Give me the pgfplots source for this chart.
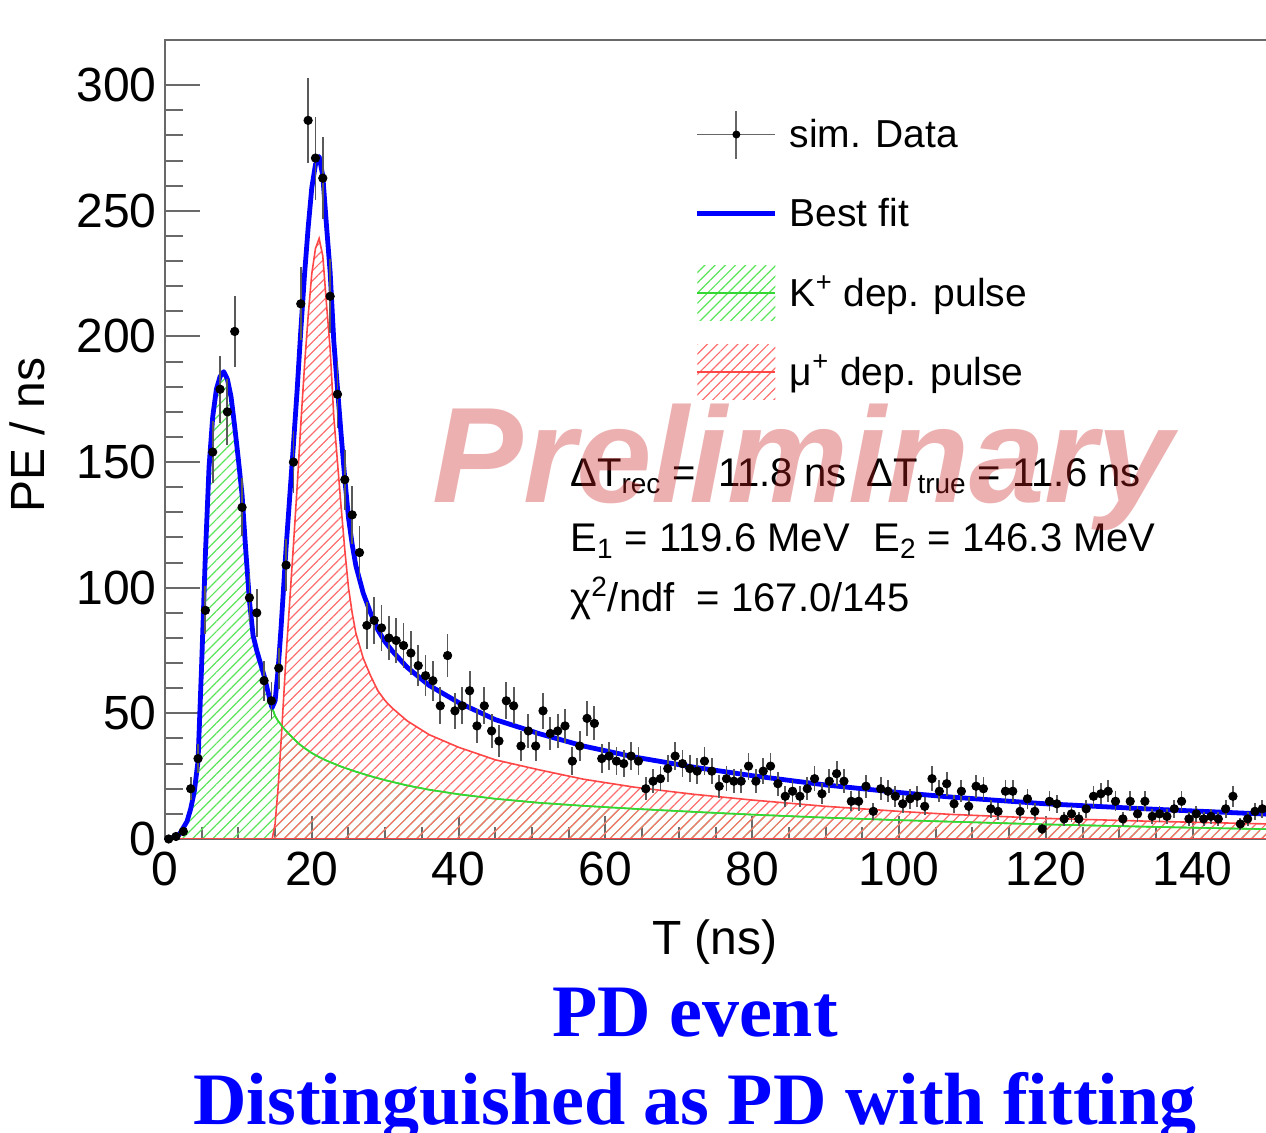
\documentclass[border=0pt]{standalone}
\usepackage{pgfplots}
\pgfplotsset{compat=1.18}
\usepackage{pgfplotstable}
\usepackage{fontspec}
\setmainfont{Liberation Sans}
\newfontfamily\tnr{Liberation Serif}
\usetikzlibrary{patterns.meta}
\definecolor{kgreen}{RGB}{90,228,90}
\definecolor{kgreenline}{RGB}{50,215,50}
\definecolor{mured}{RGB}{255,110,110}
\definecolor{muredline}{RGB}{255,70,70}
\definecolor{fitblue}{RGB}{0,0,255}
\definecolor{framegray}{RGB}{105,105,105}
\definecolor{prelim}{RGB}{200,30,30}
\definecolor{titleblue}{RGB}{0,0,255}
\tikzset{hatch/.style={pattern={Lines[angle=45,distance=3.6pt,line width=0.6pt]}}}

\pgfplotstableread{
t v e
0.5 0 0
1.5 1 1
2.5 3 1.7
3.5 20 4.5
4.5 32 5.7
5.5 91 9.5
6.5 154 12.4
7.5 179 13.4
8.5 170 13
9.5 202 14.2
10.5 132 11.5
11.5 96 9.8
12.5 90 9.5
13.5 63 7.9
14.5 55 7.4
15.5 68 8.2
16.5 109 10.4
17.5 150 12.2
18.5 213 14.6
19.5 286 16.9
20.5 271 16.5
21.5 263 16.2
22.5 216 14.7
23.5 177 13.3
24.5 143 12
25.5 129 11.4
26.5 114 10.7
27.5 85 9.2
28.5 87 9.3
29.5 84 9.2
30.5 80 8.9
31.5 79 8.9
32.5 77 8.8
33.5 74 8.6
34.5 69 8.3
35.5 65 8.1
36.5 63 7.9
37.5 53 7.3
38.5 73 8.5
39.5 51 7.1
40.5 53 7.3
41.5 59 7.7
42.5 45 6.7
43.5 53 7.3
44.5 43 6.6
45.5 39 6.2
46.5 55 7.4
47.5 53 7.3
48.5 37 6.1
49.5 43 6.6
50.5 37 6.1
51.5 51 7.1
52.5 42 6.5
53.5 43 6.6
54.5 45 6.7
55.5 31 5.6
56.5 37 6.1
57.5 48 6.9
58.5 46 6.8
59.5 32 5.7
60.5 33 5.7
61.5 31 5.6
62.5 30 5.5
63.5 33 5.7
64.5 31 5.6
65.5 20 4.5
66.5 23 4.8
67.5 24 4.9
68.5 28 5.3
69.5 33 5.7
70.5 30 5.5
71.5 28 5.3
72.5 27 5.2
73.5 31 5.6
74.5 27 5.2
75.5 21 4.6
76.5 24 4.9
77.5 23 4.8
78.5 23 4.8
79.5 29 5.4
80.5 23 4.8
81.5 27 5.2
82.5 29 5.4
83.5 22 4.7
84.5 17 4.1
85.5 19 4.4
86.5 17 4.1
87.5 20 4.5
88.5 24 4.9
89.5 18 4.2
90.5 23 4.8
91.5 26 5.1
92.5 23 4.8
93.5 15 3.9
94.5 15 3.9
95.5 21 4.6
96.5 11 3.3
97.5 20 4.5
98.5 19 4.4
99.5 17 4.1
100.5 14 3.7
101.5 16 4
102.5 17 4.1
103.5 13 3.6
104.5 24 4.9
105.5 19 4.4
106.5 22 4.7
107.5 14 3.7
108.5 19 4.4
109.5 13 3.6
110.5 21 4.6
111.5 20 4.5
112.5 12 3.5
113.5 11 3.3
114.5 19 4.4
115.5 19 4.4
116.5 11 3.3
117.5 16 4
118.5 11 3.3
119.5 4 2
120.5 15 3.9
121.5 14 3.7
122.5 8 2.8
123.5 10 3.2
124.5 8 2.8
125.5 12 3.5
126.5 17 4.1
127.5 18 4.2
128.5 19 4.4
129.5 15 3.9
130.5 8 2.8
131.5 15 3.9
132.5 10 3.2
133.5 15 3.9
134.5 9 3
135.5 10 3.2
136.5 9 3
137.5 12 3.5
138.5 15 3.9
139.5 8 2.8
140.5 10 3.2
141.5 8 2.8
142.5 9 3
143.5 8 2.8
144.5 12 3.5
145.5 17 4.1
146.5 6 2.4
147.5 8 2.8
148.5 11 3.3
149.5 12 3.5
}\datatab

\pgfplotstableread{
t v
0 0
1 0.5
2 2
3 7
3.5 12
4 19
4.5 31
5 70
5.5 113
6 148
6.5 168
7 179
7.5 184
8 186
8.5 183
9 176
9.5 164
10 151
10.5 137
11 115
11.5 95
12 81
12.5 75
13 70
13.5 65
14 59
14.5 53
15 49
15.4 47
15.8 45.5
16.2 44
16.5 43
17 41.5
17.5 40
18 38.5
18.5 37.3
19 36.2
19.5 35.2
20 34.2
20.5 33.4
21 32.6
21.5 31.9
22 31.2
22.5 30.6
23 30
23.5 29.4
24 28.8
24.5 28.3
25 27.8
26 26.8
27 25.9
28 25
29 24.2
30 23.4
31 22.7
33 21.3
36 19.6
40 17.8
45 16
51 14.4
57 13.2
64 12
72 10.8
80 9.7
90 8.5
100 7.5
107 6.9
120 5.8
135 4.8
150 3.9
151 3.85
}\ktab

\pgfplotstableread{
t v
0 0
14.6 0
15 6
15.4 20
15.8 38
16.2 58
16.5 73
17 95
17.5 117
18 140
18.5 165
19 188
19.5 208
20 225
20.5 235
21 239
21.5 232
22 213
22.5 195
23 168
23.5 150
24 132
24.5 115
25 100
25.5 90
26 82
27 72
28 65
29 59
30 55
31 52
33 47
36 41.5
40 36.5
45 31.5
51 27.5
57 23.8
64 20.6
72 17.8
80 15.5
90 13
100 11
107 9.8
120 8.2
135 7
150 6
151 5.95
}\mutab

\pgfplotstableread{
t v
0 0
1 0.5
2 2
3 7
3.5 12
4 19
4.5 31
5 70
5.5 113
6 148
6.5 168
7 179
7.5 184
8 186
8.5 183
9 176
9.5 164
10 151
10.5 137
11 115
11.5 95
12 81
12.5 75
13 70
13.5 65
14 59
14.5 53
14.6 52.3
15 55
15.4 67
15.8 83.5
16.2 102
16.5 116
17 136.5
17.5 157
18 178.5
18.5 202.3
19 224.2
19.5 243.2
20 259.2
20.5 268.4
21 271.6
21.5 263.9
22 244.2
22.5 225.6
23 198
23.5 179.4
24 160.8
24.5 143.3
25 127.8
25.5 117.3
26 108.8
27 97.9
28 90
29 83.2
30 78.4
31 74.7
33 68.3
36 61.1
40 54.3
45 47.5
51 41.9
57 37
64 32.6
72 28.6
80 25.2
90 21.5
100 18.5
107 16.7
120 14
135 11.8
150 9.9
151 9.8
}\fittab

\begin{document}
\begin{tikzpicture}
\useasboundingbox (-82.5pt,-147pt) rectangle (550.5pt,419.5pt);
\begin{axis}[
  at={(0pt,0pt)}, anchor=south west,
  scale only axis, width=553pt, height=399.5pt,
  xmin=0, xmax=150.68, ymin=0, ymax=318,
  xtick={0,20,...,140}, ytick={0,50,...,300},
  minor x tick num=3, minor y tick num=4,
  xtick pos=left, ytick pos=left,
  tick align=inside,
  major tick length=11.5pt, minor tick length=6pt,
  ytick style={/pgfplots/major tick length=17.5pt, /pgfplots/minor tick length=9pt},
  axis line style={framegray, line width=1pt},
  tick style={framegray, line width=1pt},
  tick label style={font=\fontsize{24}{28}\selectfont, inner sep=0pt},
  /pgf/number format/assume math mode=true,
  xticklabel shift=6.5pt, yticklabel shift=4pt,
  clip=true,
  legend style={at={(axis description cs:0.4792,0.9161)}, anchor=north west,
    draw=none, fill=none, inner sep=0pt, outer sep=0pt,
    font=\fontsize{19.5}{23}\selectfont, row sep=12pt,
    nodes={inner sep=0pt},
    /tikz/every odd column/.append style={column sep=6pt}},
  legend cell align=left,
]
\addplot[draw=kgreenline, line width=0.8pt, hatch, pattern color=kgreen, forget plot] table[x=t,y=v]{\ktab} \closedcycle;
\addplot[draw=muredline, line width=0.8pt, hatch, pattern color=mured, forget plot] table[x=t,y=v]{\mutab} \closedcycle;
\addplot[kgreenline, line width=0.8pt, forget plot] table[x=t,y=v]{\ktab};
\addplot[fitblue, line width=2.4pt, line join=round, forget plot] table[x=t,y=v]{\fittab};
\addplot[only marks, mark=*, mark size=2.1pt, mark options={black, fill=black}, forget plot,
  error bars/.cd, y dir=both, y explicit, x dir=both, x fixed=0.5, error mark=none,
  error bar style={black!65, line width=0.9pt}] table[x=t,y=v,y error=e]{\datatab};

\addlegendimage{legend image code/.code={
  \path[draw=none, fill=none] (0pt,-13.75pt) rectangle (39pt,13.75pt);
  \draw[black!60, line width=0.9pt] (0pt,0pt) -- (39pt,0pt);
  \draw[black!60, line width=0.9pt] (19.5pt,-12pt) -- (19.5pt,12pt);
  \fill[black, draw=none] (19.5pt,0pt) circle (2pt);}}
\addlegendentry{sim. Data}
\addlegendimage{legend image code/.code={
  \path[draw=none, fill=none] (0pt,-13.75pt) rectangle (39pt,13.75pt);
  \draw[fitblue, line width=2.4pt] (0pt,0pt) -- (39pt,0pt);}}
\addlegendentry{Best fit}
\addlegendimage{legend image code/.code={
  \path[draw=none, hatch, pattern color=kgreen] (0pt,-13.75pt) rectangle (39pt,13.75pt);
  \draw[kgreenline, line width=1pt] (0pt,0pt) -- (39pt,0pt);}}
\addlegendentry{K\textsuperscript{+} dep. pulse}
\addlegendimage{legend image code/.code={
  \path[draw=none, hatch, pattern color=mured] (0pt,-13.75pt) rectangle (39pt,13.75pt);
  \draw[muredline, line width=1pt] (0pt,0pt) -- (39pt,0pt);}}
\addlegendentry{μ\textsuperscript{+} dep. pulse}
\end{axis}

\begin{scope}[every node/.style={anchor=base west, inner sep=0pt, font=\fontsize{20}{24}\selectfont}]
\node at (202.5pt,176pt) {ΔT\textsubscript{rec} =\ \ 11.8 ns};
\node at (350.5pt,176pt) {ΔT\textsubscript{true} = 11.6 ns};
\node at (202.5pt,143.5pt) {E\textsubscript{1} = 119.6 MeV};
\node at (354pt,143.5pt) {E\textsubscript{2} = 146.3 MeV};
\node at (202.5pt,113.5pt) {χ\textsuperscript{2}/ndf\ \ = 167.0/145};
\end{scope}

\node[anchor=base, inner sep=0pt, font=\fontsize{68}{80}\selectfont\bfseries\itshape, text=prelim, text opacity=0.35] at (319pt,168pt) {Preliminary};

\node[rotate=90, anchor=center, inner sep=0pt, font=\fontsize{24}{28}\selectfont] at (-69pt,202pt) {PE / ns};
\node[anchor=base, inner sep=0pt, font=\fontsize{24}{28}\selectfont] at (275pt,-58pt) {T (ns)};

\node[anchor=base, inner sep=0pt, font=\tnr\bfseries\fontsize{37}{44}\selectfont, text=titleblue] at (265pt,-99pt) {PD event};
\node[anchor=base, inner sep=0pt, font=\tnr\bfseries\fontsize{37}{44}\selectfont, text=titleblue] at (265pt,-143pt) {Distinguished as PD with fitting};
\end{tikzpicture}
\end{document}
